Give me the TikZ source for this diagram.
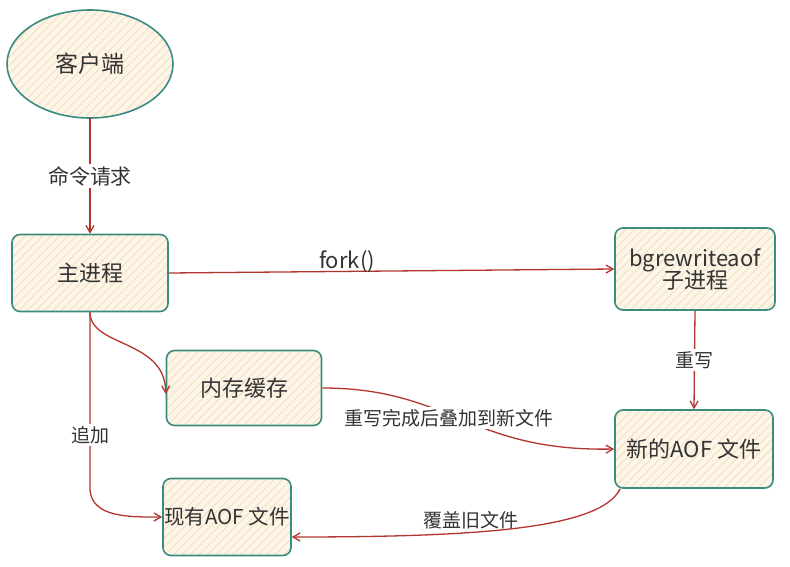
\documentclass[tikz,border=0pt]{standalone}
\usepackage{fontspec}
\setmainfont{Noto Sans CJK SC}
\usetikzlibrary{arrows.meta,patterns.meta,shapes.geometric}
\definecolor{teal2}{HTML}{3A8C80}
\definecolor{arrred}{HTML}{B3352F}
\definecolor{cream}{HTML}{FDF6E8}
\definecolor{hatch}{HTML}{F3DEC0}
\definecolor{txt}{HTML}{333333}
\tikzset{
  fillstyle/.style={preaction={fill=cream}, pattern={Lines[angle=45,distance=6pt,line width=0.9pt]}, pattern color=hatch},
  box/.style={draw=teal2, line width=1.6pt, rounded corners=8pt, fillstyle, text=txt, font=\fontsize{22}{25}\selectfont, align=center, inner sep=1pt},
  ell/.style={ellipse, draw=teal2, line width=1.6pt, fillstyle, text=txt, font=\fontsize{23}{26}\selectfont},
  arr/.style={draw=arrred, line width=1.3pt, -{Straight Barb[length=7pt,width=8pt]}},
  lbl/.style={text=txt, font=\fontsize{19}{22}\selectfont, inner sep=2pt},
}
\begin{document}
\begin{tikzpicture}[x=1pt,y=-1pt]
\useasboundingbox[fill=white] (0,0) rectangle (790,567);
\node[ell, minimum width=166pt, minimum height=108pt] (client) at (90,64) {客户端};
\node[box, minimum width=156pt, minimum height=77pt] (main) at (90,273) {主进程};
\node[box, minimum width=160pt, minimum height=82pt] (child) at (695,269) {bgrewriteaof\\[-3pt]子进程};
\node[box, minimum width=158pt, minimum height=78pt] (newaof) at (694,449) {新的AOF 文件};
\node[box, minimum width=155pt, minimum height=75pt] (mem) at (244,388) {内存缓存};
\node[box, minimum width=128pt, minimum height=77pt, inner sep=0pt, font=\fontsize{20.5}{24}\selectfont] (old) at (227,517) {现有AOF 文件};

\draw[arr] (client) -- (main) node[midway, lbl, fill=white, font=\fontsize{21}{24}\selectfont] {命令请求};
\draw[arr] (main.east) -- (child.west) node[pos=0.4, lbl, above=-4pt, font=\fontsize{22}{24}\selectfont] {fork()};
\draw[arr] (child.south) -- (newaof.north) node[midway, lbl, fill=white] {重写};
\draw[arr] (main.south) .. controls +(0,35) and +(0,-55) .. ([yshift=-6pt]mem.west);
\coordinate (bend) at (90,488);
\draw[arr] (main.south) -- (bend) node[pos=0.7, lbl, fill=white] {追加} to[out=-90,in=180] (old.west);
\draw[arr] (mem.east) .. controls (450,388) and (470,452) .. (newaof.west);
\node[lbl, fill=white] (l1) at (449,418) {重写完成后叠加到新文件};
\draw[arr] ([xshift=6pt]newaof.south west) .. controls (600,530) and (470,537) .. ([yshift=-20pt]old.east) node[pos=0.62, lbl, above=1pt] {覆盖旧文件};
\end{tikzpicture}
\end{document}
